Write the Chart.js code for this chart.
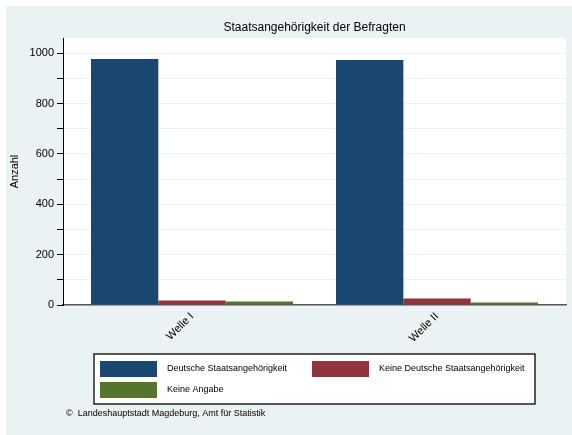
<!DOCTYPE html>
<html>
<head>
<meta charset="utf-8">
<script src="https://cdn.jsdelivr.net/npm/chart.js@4"></script>
<style>
    html, body { margin: 0; padding: 0; background: #fff; }
</style>
</head>
<body>
<canvas id="befragtenChart" width="572" height="435"></canvas>
<script>
const waves = ["Welle I", "Welle II"];
const seriesNames = ["Deutsche Staatsangehörigkeit", "Keine Deutsche Staatsangehörigkeit", "Keine Angabe"];
const deutsch = [977, 973];
const keineDeutsch = [18, 26];
const keineAngabe = [14, 10];
const yLabels = [0, 200, 400, 600, 800, 1000];

const colors = ["#1a476f", "#90353b", "#55752f"];
const bgColor = "#eaf2f3";
const fontFamily = "'Liberation Sans', Arial, sans-serif";

const ctx = document.getElementById("befragtenChart");

// hintergrund, titel, legende und quelle
const stataLook = {
    id: "stataLook",
    beforeDraw(chart) {
        const c = chart.ctx;
        const a = chart.chartArea;
        c.save();
        c.fillStyle = "#fff";
        c.fillRect(0, 0, chart.width, chart.height);
        c.fillStyle = bgColor;
        c.fillRect(6, 6, chart.width - 6, chart.height - 6);
        c.fillStyle = "#fff";
        c.fillRect(a.left, a.top, a.right - a.left, a.bottom - a.top);
        c.restore();
    },
    afterDraw(chart) {
        const c = chart.ctx;
        const a = chart.chartArea;
        c.save();

        c.fillStyle = "#000";
        c.font = "12px " + fontFamily;
        c.textAlign = "center";
        c.textBaseline = "middle";
        c.fillText("Staatsangehörigkeit der Befragten", (a.left + a.right) / 2, 28);

        // legende
        c.fillStyle = "#fff";
        c.fillRect(94, 354, 441, 50);
        c.strokeStyle = "#222";
        c.lineWidth = 1.5;
        c.strokeRect(94, 354, 441, 50);

        const spots = [[100, 361], [312, 361], [100, 382]];
        c.font = "9px " + fontFamily;
        c.textAlign = "left";
        chart.data.datasets.forEach((ds, i) => {
            const [sx, sy] = spots[i];
            c.fillStyle = ds.backgroundColor;
            c.fillRect(sx, sy, 57, 16);
            c.fillStyle = "#000";
            c.fillText(ds.label, sx + 67, sy + 8);
        });

        c.fillText("©  Landeshauptstadt Magdeburg, Amt für Statistik", 66, 414);
        c.restore();
    },
};

new Chart(ctx, {
    type: "bar",
    data: {
        labels: waves,
        datasets: [
            { label: seriesNames[0], data: deutsch, backgroundColor: colors[0] },
            { label: seriesNames[1], data: keineDeutsch, backgroundColor: colors[1] },
            { label: seriesNames[2], data: keineAngabe, backgroundColor: colors[2] },
        ],
    },
    options: {
        responsive: false,
        devicePixelRatio: 1,
        animation: false,
        categoryPercentage: 0.8245,
        barPercentage: 1.0,
        layout: {
            padding: { left: 0, right: 6, top: 38, bottom: 0 },
        },
        plugins: {
            legend: { display: false },
            tooltip: { enabled: false },
        },
        scales: {
            x: {
                afterFit(scale) {
                    scale.height = 130;
                },
                // stata laesst aussen weniger platz als zwischen den gruppen
                afterBuildTicks(scale) {
                    scale._startValue = -0.5265;
                    scale._valueRange = 2.053;
                },
                grid: { display: false, drawTicks: false },
                border: { display: true, color: "#555", width: 1.5 },
                ticks: {
                    minRotation: 45,
                    maxRotation: 45,
                    padding: 5,
                    color: "#000",
                    font: { size: 11, family: fontFamily },
                },
            },
            y: {
                min: 0,
                max: 1060,
                afterFit(scale) {
                    scale.width = 63;
                },
                border: { color: "#000", width: 1 },
                grid: { color: bgColor, tickColor: "#000", tickLength: 6, lineWidth: 1 },
                ticks: {
                    stepSize: 100,
                    includeBounds: false,
                    padding: 3,
                    color: "#000",
                    font: { size: 11, family: fontFamily },
                    callback: (v) => (yLabels.includes(v) ? v : ""),
                },
                title: {
                    display: true,
                    text: "Anzahl",
                    color: "#000",
                    font: { size: 11, family: fontFamily },
                    padding: { top: 8, bottom: 0 },
                },
            },
        },
    },
    plugins: [stataLook],
});
</script>
</body>
</html>
